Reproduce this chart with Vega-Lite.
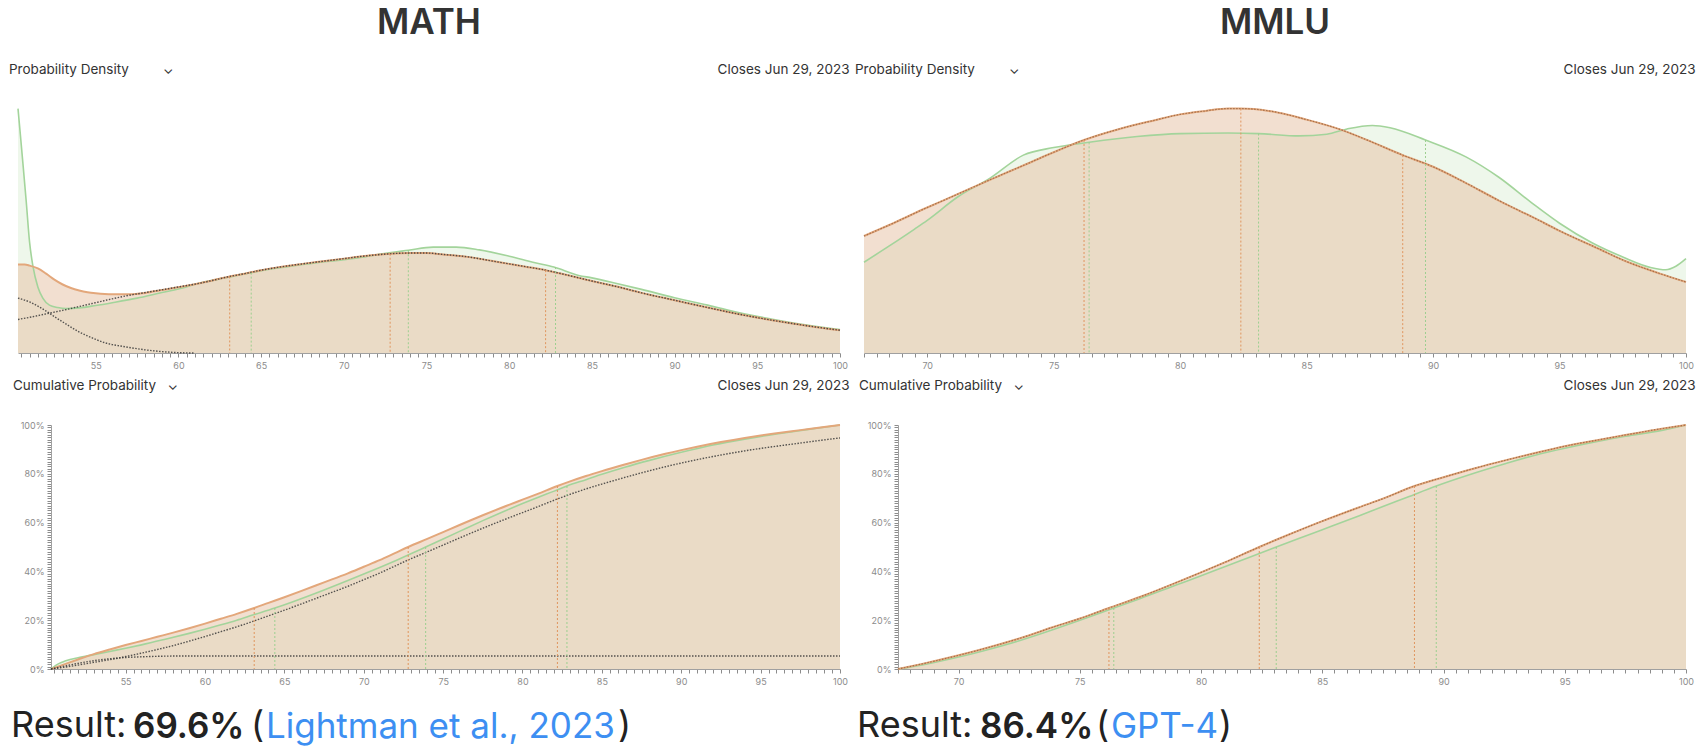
{
  "$schema": "https://vega.github.io/schema/vega-lite/v6.json",
  "background": "white",
  "padding": {"left": 9, "top": 6, "right": 3, "bottom": 0},
  "config": {
    "view": {"stroke": null},
    "font": "Inter",
    "title": {"font": "Inter", "color": "#333333"},
    "axis": {
      "grid": false,
      "labelFont": "Inter",
      "labelFontSize": 9,
      "labelColor": "#8c8c8c",
      "labelFlush": false,
      "labelOverlap": false,
      "labelPadding": 4,
      "tickColor": "#8c8c8c",
      "tickSize": 4,
      "domainColor": "#a0a0a0",
      "titleFont": "Inter",
      "titleFontWeight": "normal",
      "titleFontSize": 13.5,
      "titleColor": "#333333"
    }
  },
  "datasets": {
    "mathDens": [
      {"series": "mine", "x": 50.3, "density": 2.53}, {"series": "mine", "x": 50.7, "density": 2.53}, {"series": "mine", "x": 51.0, "density": 2.50},
      {"series": "mine", "x": 51.5, "density": 2.42}, {"series": "mine", "x": 52.0, "density": 2.27}, {"series": "mine", "x": 52.5, "density": 2.10},
      {"series": "mine", "x": 53.0, "density": 1.96}, {"series": "mine", "x": 53.5, "density": 1.86}, {"series": "mine", "x": 54.0, "density": 1.79},
      {"series": "mine", "x": 54.5, "density": 1.74}, {"series": "mine", "x": 55.0, "density": 1.71}, {"series": "mine", "x": 56.0, "density": 1.68},
      {"series": "mine", "x": 57.0, "density": 1.68}, {"series": "mine", "x": 58.0, "density": 1.72}, {"series": "mine", "x": 59.0, "density": 1.80},
      {"series": "mine", "x": 60.0, "density": 1.88}, {"series": "mine", "x": 61.0, "density": 1.97}, {"series": "mine", "x": 62.0, "density": 2.07},
      {"series": "mine", "x": 63.1, "density": 2.19}, {"series": "mine", "x": 64.0, "density": 2.27}, {"series": "mine", "x": 65.0, "density": 2.37},
      {"series": "mine", "x": 66.0, "density": 2.45}, {"series": "mine", "x": 67.5, "density": 2.55}, {"series": "mine", "x": 69.0, "density": 2.64},
      {"series": "mine", "x": 70.0, "density": 2.70}, {"series": "mine", "x": 71.0, "density": 2.76}, {"series": "mine", "x": 72.0, "density": 2.81},
      {"series": "mine", "x": 72.8, "density": 2.84}, {"series": "mine", "x": 74.0, "density": 2.86}, {"series": "mine", "x": 75.0, "density": 2.86},
      {"series": "mine", "x": 76.0, "density": 2.82}, {"series": "mine", "x": 77.5, "density": 2.75}, {"series": "mine", "x": 79.0, "density": 2.63},
      {"series": "mine", "x": 80.0, "density": 2.55}, {"series": "mine", "x": 81.0, "density": 2.47}, {"series": "mine", "x": 82.2, "density": 2.37},
      {"series": "mine", "x": 83.5, "density": 2.23}, {"series": "mine", "x": 85.0, "density": 2.06}, {"series": "mine", "x": 86.5, "density": 1.90},
      {"series": "mine", "x": 88.0, "density": 1.72}, {"series": "mine", "x": 90.0, "density": 1.51}, {"series": "mine", "x": 92.0, "density": 1.30},
      {"series": "mine", "x": 94.0, "density": 1.10}, {"series": "mine", "x": 96.0, "density": 0.93}, {"series": "mine", "x": 98.0, "density": 0.78},
      {"series": "mine", "x": 100.0, "density": 0.65},

      {"series": "community", "x": 50.3, "density": 6.99}, {"series": "community", "x": 50.45, "density": 6.21}, {"series": "community", "x": 50.6, "density": 5.41},
      {"series": "community", "x": 50.8, "density": 4.32}, {"series": "community", "x": 51.0, "density": 3.17}, {"series": "community", "x": 51.2, "density": 2.49},
      {"series": "community", "x": 51.5, "density": 1.89}, {"series": "community", "x": 51.8, "density": 1.57}, {"series": "community", "x": 52.2, "density": 1.37},
      {"series": "community", "x": 52.7, "density": 1.30}, {"series": "community", "x": 53.2, "density": 1.27}, {"series": "community", "x": 54.0, "density": 1.29},
      {"series": "community", "x": 55.0, "density": 1.36}, {"series": "community", "x": 56.0, "density": 1.44}, {"series": "community", "x": 57.5, "density": 1.57},
      {"series": "community", "x": 59.0, "density": 1.73}, {"series": "community", "x": 60.0, "density": 1.83}, {"series": "community", "x": 61.2, "density": 1.99},
      {"series": "community", "x": 62.5, "density": 2.12}, {"series": "community", "x": 64.4, "density": 2.30}, {"series": "community", "x": 66.0, "density": 2.43},
      {"series": "community", "x": 67.5, "density": 2.53}, {"series": "community", "x": 69.0, "density": 2.62}, {"series": "community", "x": 70.0, "density": 2.67},
      {"series": "community", "x": 71.0, "density": 2.73}, {"series": "community", "x": 72.2, "density": 2.83}, {"series": "community", "x": 73.9, "density": 2.94},
      {"series": "community", "x": 75.4, "density": 3.03}, {"series": "community", "x": 76.8, "density": 3.03}, {"series": "community", "x": 78.2, "density": 2.95},
      {"series": "community", "x": 80.0, "density": 2.77}, {"series": "community", "x": 81.5, "density": 2.59}, {"series": "community", "x": 82.7, "density": 2.46},
      {"series": "community", "x": 84.2, "density": 2.22}, {"series": "community", "x": 85.0, "density": 2.15}, {"series": "community", "x": 86.5, "density": 1.99},
      {"series": "community", "x": 88.0, "density": 1.82}, {"series": "community", "x": 90.0, "density": 1.58}, {"series": "community", "x": 92.0, "density": 1.37},
      {"series": "community", "x": 94.0, "density": 1.14}, {"series": "community", "x": 96.0, "density": 0.96}, {"series": "community", "x": 98.0, "density": 0.80},
      {"series": "community", "x": 100.0, "density": 0.67},

      {"series": "component 1", "x": 50.3, "density": 1.57}, {"series": "component 1", "x": 51.0, "density": 1.46}, {"series": "component 1", "x": 51.5, "density": 1.34},
      {"series": "component 1", "x": 52.0, "density": 1.20}, {"series": "component 1", "x": 52.5, "density": 1.04}, {"series": "component 1", "x": 53.0, "density": 0.89},
      {"series": "component 1", "x": 53.5, "density": 0.74}, {"series": "component 1", "x": 54.0, "density": 0.60}, {"series": "component 1", "x": 54.5, "density": 0.49},
      {"series": "component 1", "x": 55.0, "density": 0.39}, {"series": "component 1", "x": 55.5, "density": 0.30}, {"series": "component 1", "x": 56.0, "density": 0.24},
      {"series": "component 1", "x": 56.5, "density": 0.20}, {"series": "component 1", "x": 57.0, "density": 0.16}, {"series": "component 1", "x": 58.0, "density": 0.09},
      {"series": "component 1", "x": 59.0, "density": 0.04}, {"series": "component 1", "x": 60.0, "density": 0.01}, {"series": "component 1", "x": 61.0, "density": 0.0},

      {"series": "component 2", "x": 50.3, "density": 0.96}, {"series": "component 2", "x": 51.0, "density": 1.02}, {"series": "component 2", "x": 52.0, "density": 1.12},
      {"series": "component 2", "x": 53.0, "density": 1.22}, {"series": "component 2", "x": 54.0, "density": 1.33}, {"series": "component 2", "x": 55.0, "density": 1.44},
      {"series": "component 2", "x": 56.0, "density": 1.55}, {"series": "component 2", "x": 57.0, "density": 1.65}, {"series": "component 2", "x": 58.0, "density": 1.73},
      {"series": "component 2", "x": 59.0, "density": 1.81}, {"series": "component 2", "x": 60.0, "density": 1.89}, {"series": "component 2", "x": 61.0, "density": 1.97},
      {"series": "component 2", "x": 62.0, "density": 2.07}, {"series": "component 2", "x": 63.1, "density": 2.19}, {"series": "component 2", "x": 64.0, "density": 2.27},
      {"series": "component 2", "x": 65.0, "density": 2.37}, {"series": "component 2", "x": 66.0, "density": 2.45}, {"series": "component 2", "x": 67.5, "density": 2.55},
      {"series": "component 2", "x": 69.0, "density": 2.64}, {"series": "component 2", "x": 70.0, "density": 2.70}, {"series": "component 2", "x": 71.0, "density": 2.76},
      {"series": "component 2", "x": 72.0, "density": 2.81}, {"series": "component 2", "x": 72.8, "density": 2.84}, {"series": "component 2", "x": 74.0, "density": 2.86},
      {"series": "component 2", "x": 75.0, "density": 2.86}, {"series": "component 2", "x": 76.0, "density": 2.82}, {"series": "component 2", "x": 77.5, "density": 2.75},
      {"series": "component 2", "x": 79.0, "density": 2.63}, {"series": "component 2", "x": 80.0, "density": 2.55}, {"series": "component 2", "x": 81.0, "density": 2.47},
      {"series": "component 2", "x": 82.2, "density": 2.37}, {"series": "component 2", "x": 83.5, "density": 2.23}, {"series": "component 2", "x": 85.0, "density": 2.06},
      {"series": "component 2", "x": 86.5, "density": 1.90}, {"series": "component 2", "x": 88.0, "density": 1.72}, {"series": "component 2", "x": 90.0, "density": 1.51},
      {"series": "component 2", "x": 92.0, "density": 1.30}, {"series": "component 2", "x": 94.0, "density": 1.10}, {"series": "component 2", "x": 96.0, "density": 0.93},
      {"series": "component 2", "x": 98.0, "density": 0.78}, {"series": "component 2", "x": 100.0, "density": 0.65}
    ],
    "mathCum": [
      {"series": "mine", "x": 50.3, "cum": 0}, {"series": "mine", "x": 51, "cum": 1.6}, {"series": "mine", "x": 52, "cum": 3.9}, {"series": "mine", "x": 53, "cum": 6.1},
      {"series": "mine", "x": 54, "cum": 8.0}, {"series": "mine", "x": 55, "cum": 9.8}, {"series": "mine", "x": 56, "cum": 11.5}, {"series": "mine", "x": 57, "cum": 13.2},
      {"series": "mine", "x": 58, "cum": 14.9}, {"series": "mine", "x": 59, "cum": 16.7}, {"series": "mine", "x": 60, "cum": 18.6}, {"series": "mine", "x": 61, "cum": 20.6},
      {"series": "mine", "x": 62, "cum": 22.6}, {"series": "mine", "x": 63.1, "cum": 25}, {"series": "mine", "x": 64, "cum": 27.1}, {"series": "mine", "x": 65, "cum": 29.4},
      {"series": "mine", "x": 66, "cum": 31.8}, {"series": "mine", "x": 67.5, "cum": 35.5}, {"series": "mine", "x": 69, "cum": 39.2}, {"series": "mine", "x": 70, "cum": 41.9},
      {"series": "mine", "x": 71, "cum": 44.6}, {"series": "mine", "x": 72, "cum": 47.6}, {"series": "mine", "x": 72.8, "cum": 50}, {"series": "mine", "x": 74, "cum": 53.3},
      {"series": "mine", "x": 75, "cum": 56.1}, {"series": "mine", "x": 76, "cum": 58.9}, {"series": "mine", "x": 77.5, "cum": 63.0}, {"series": "mine", "x": 79, "cum": 66.9},
      {"series": "mine", "x": 80, "cum": 69.4}, {"series": "mine", "x": 81, "cum": 71.9}, {"series": "mine", "x": 82.2, "cum": 75}, {"series": "mine", "x": 83, "cum": 76.9},
      {"series": "mine", "x": 84, "cum": 79.1}, {"series": "mine", "x": 85, "cum": 81.1}, {"series": "mine", "x": 86.5, "cum": 83.9}, {"series": "mine", "x": 87.5, "cum": 85.7},
      {"series": "mine", "x": 89, "cum": 88.2}, {"series": "mine", "x": 90, "cum": 89.7}, {"series": "mine", "x": 91, "cum": 91.1}, {"series": "mine", "x": 92.5, "cum": 93.0},
      {"series": "mine", "x": 94, "cum": 94.7}, {"series": "mine", "x": 95, "cum": 95.7}, {"series": "mine", "x": 96, "cum": 96.6}, {"series": "mine", "x": 97.5, "cum": 97.9},
      {"series": "mine", "x": 99, "cum": 99.2}, {"series": "mine", "x": 100, "cum": 100},

      {"series": "community", "x": 50.3, "cum": 0}, {"series": "community", "x": 50.6, "cum": 1.5}, {"series": "community", "x": 51, "cum": 2.8}, {"series": "community", "x": 51.5, "cum": 3.9},
      {"series": "community", "x": 52, "cum": 4.6}, {"series": "community", "x": 53, "cum": 5.9}, {"series": "community", "x": 54, "cum": 7.2}, {"series": "community", "x": 55, "cum": 8.5},
      {"series": "community", "x": 56, "cum": 9.9}, {"series": "community", "x": 57.5, "cum": 12.2}, {"series": "community", "x": 59, "cum": 14.6}, {"series": "community", "x": 60, "cum": 16.3},
      {"series": "community", "x": 61, "cum": 18.1}, {"series": "community", "x": 62, "cum": 20.0}, {"series": "community", "x": 63, "cum": 22.1}, {"series": "community", "x": 64.4, "cum": 25},
      {"series": "community", "x": 65.5, "cum": 27.5}, {"series": "community", "x": 67.5, "cum": 32.4}, {"series": "community", "x": 69, "cum": 36.3}, {"series": "community", "x": 70, "cum": 38.9},
      {"series": "community", "x": 71, "cum": 41.6}, {"series": "community", "x": 72, "cum": 44.4}, {"series": "community", "x": 73, "cum": 47.3}, {"series": "community", "x": 73.9, "cum": 50},
      {"series": "community", "x": 75, "cum": 53.3}, {"series": "community", "x": 76, "cum": 56.3}, {"series": "community", "x": 77.5, "cum": 60.8}, {"series": "community", "x": 79, "cum": 65.1},
      {"series": "community", "x": 80, "cum": 67.8}, {"series": "community", "x": 81, "cum": 70.4}, {"series": "community", "x": 82, "cum": 72.9}, {"series": "community", "x": 82.8, "cum": 75},
      {"series": "community", "x": 84, "cum": 77.6}, {"series": "community", "x": 85, "cum": 79.8}, {"series": "community", "x": 86.5, "cum": 82.8}, {"series": "community", "x": 88, "cum": 85.5},
      {"series": "community", "x": 90, "cum": 88.8}, {"series": "community", "x": 92, "cum": 91.8}, {"series": "community", "x": 94, "cum": 94.2}, {"series": "community", "x": 96, "cum": 96.3},
      {"series": "community", "x": 98, "cum": 98.2}, {"series": "community", "x": 100, "cum": 100},

      {"series": "component 1", "x": 50.3, "cum": 0}, {"series": "component 1", "x": 51, "cum": 1.0}, {"series": "component 1", "x": 52, "cum": 2.3}, {"series": "component 1", "x": 53, "cum": 3.4},
      {"series": "component 1", "x": 54, "cum": 4.2}, {"series": "component 1", "x": 55, "cum": 4.7}, {"series": "component 1", "x": 56, "cum": 5.0}, {"series": "component 1", "x": 57, "cum": 5.2},
      {"series": "component 1", "x": 58, "cum": 5.3}, {"series": "component 1", "x": 100, "cum": 5.3},

      {"series": "component 2", "x": 50.3, "cum": 0}, {"series": "component 2", "x": 51, "cum": 0.6}, {"series": "component 2", "x": 52, "cum": 1.6}, {"series": "component 2", "x": 53, "cum": 2.7},
      {"series": "component 2", "x": 54, "cum": 3.8}, {"series": "component 2", "x": 55, "cum": 5.1}, {"series": "component 2", "x": 56, "cum": 6.5}, {"series": "component 2", "x": 57, "cum": 8.0},
      {"series": "component 2", "x": 58, "cum": 9.6}, {"series": "component 2", "x": 59, "cum": 11.4}, {"series": "component 2", "x": 60, "cum": 13.3}, {"series": "component 2", "x": 61, "cum": 15.3},
      {"series": "component 2", "x": 62, "cum": 17.3}, {"series": "component 2", "x": 63.1, "cum": 19.7}, {"series": "component 2", "x": 64, "cum": 21.8}, {"series": "component 2", "x": 65, "cum": 24.1},
      {"series": "component 2", "x": 66, "cum": 26.5}, {"series": "component 2", "x": 67.5, "cum": 30.2}, {"series": "component 2", "x": 69, "cum": 33.9}, {"series": "component 2", "x": 70, "cum": 36.6},
      {"series": "component 2", "x": 71, "cum": 39.3}, {"series": "component 2", "x": 72, "cum": 42.3}, {"series": "component 2", "x": 72.8, "cum": 44.7}, {"series": "component 2", "x": 74, "cum": 48.0},
      {"series": "component 2", "x": 75, "cum": 50.8}, {"series": "component 2", "x": 76, "cum": 53.6}, {"series": "component 2", "x": 77.5, "cum": 57.7}, {"series": "component 2", "x": 79, "cum": 61.6},
      {"series": "component 2", "x": 80, "cum": 64.1}, {"series": "component 2", "x": 81, "cum": 66.6}, {"series": "component 2", "x": 82.2, "cum": 69.7}, {"series": "component 2", "x": 83, "cum": 71.6},
      {"series": "component 2", "x": 84, "cum": 73.8}, {"series": "component 2", "x": 85, "cum": 75.8}, {"series": "component 2", "x": 86.5, "cum": 78.6}, {"series": "component 2", "x": 87.5, "cum": 80.4},
      {"series": "component 2", "x": 89, "cum": 82.9}, {"series": "component 2", "x": 90, "cum": 84.4}, {"series": "component 2", "x": 91, "cum": 85.8}, {"series": "component 2", "x": 92.5, "cum": 87.7},
      {"series": "component 2", "x": 94, "cum": 89.4}, {"series": "component 2", "x": 95, "cum": 90.4}, {"series": "component 2", "x": 96, "cum": 91.3}, {"series": "component 2", "x": 97.5, "cum": 92.6},
      {"series": "component 2", "x": 99, "cum": 93.9}, {"series": "component 2", "x": 100, "cum": 94.7}
    ],
    "mathQuartiles": [
      {"series": "mine", "x": 63.1, "density": 2.19, "cum": 25}, {"series": "mine", "x": 72.8, "density": 2.84, "cum": 50}, {"series": "mine", "x": 82.2, "density": 2.37, "cum": 75},
      {"series": "community", "x": 64.4, "density": 2.30, "cum": 25}, {"series": "community", "x": 73.9, "density": 2.94, "cum": 50}, {"series": "community", "x": 82.8, "density": 2.46, "cum": 75}
    ],
    "mmluDens": [
      {"series": "mine", "x": 67.5, "density": 2.01}, {"series": "mine", "x": 68.5, "density": 2.20}, {"series": "mine", "x": 70, "density": 2.50}, {"series": "mine", "x": 71, "density": 2.69},
      {"series": "mine", "x": 72.5, "density": 2.98}, {"series": "mine", "x": 74, "density": 3.26}, {"series": "mine", "x": 75, "density": 3.45}, {"series": "mine", "x": 76.2, "density": 3.66},
      {"series": "mine", "x": 77.6, "density": 3.85}, {"series": "mine", "x": 79, "density": 4.00}, {"series": "mine", "x": 80, "density": 4.10}, {"series": "mine", "x": 81, "density": 4.16},
      {"series": "mine", "x": 81.9, "density": 4.20}, {"series": "mine", "x": 82.4, "density": 4.20}, {"series": "mine", "x": 83.5, "density": 4.16}, {"series": "mine", "x": 85, "density": 4.01},
      {"series": "mine", "x": 86.4, "density": 3.83}, {"series": "mine", "x": 87.5, "density": 3.64}, {"series": "mine", "x": 88.8, "density": 3.40}, {"series": "mine", "x": 90, "density": 3.20},
      {"series": "mine", "x": 91.3, "density": 2.92}, {"series": "mine", "x": 92.6, "density": 2.62}, {"series": "mine", "x": 94, "density": 2.32}, {"series": "mine", "x": 95, "density": 2.10},
      {"series": "mine", "x": 96.5, "density": 1.80}, {"series": "mine", "x": 97.6, "density": 1.58}, {"series": "mine", "x": 99, "density": 1.36}, {"series": "mine", "x": 100, "density": 1.22},

      {"series": "community", "x": 67.5, "density": 1.56}, {"series": "community", "x": 68.5, "density": 1.84}, {"series": "community", "x": 69.5, "density": 2.13}, {"series": "community", "x": 70, "density": 2.28},
      {"series": "community", "x": 71.2, "density": 2.68}, {"series": "community", "x": 72.5, "density": 3.01}, {"series": "community", "x": 73.8, "density": 3.40}, {"series": "community", "x": 75, "density": 3.53},
      {"series": "community", "x": 76.4, "density": 3.62}, {"series": "community", "x": 78.3, "density": 3.72}, {"series": "community", "x": 80, "density": 3.77}, {"series": "community", "x": 81.9, "density": 3.78},
      {"series": "community", "x": 83.1, "density": 3.77}, {"series": "community", "x": 84.7, "density": 3.73}, {"series": "community", "x": 85.8, "density": 3.76}, {"series": "community", "x": 86.6, "density": 3.85},
      {"series": "community", "x": 87.6, "density": 3.91}, {"series": "community", "x": 88.3, "density": 3.87}, {"series": "community", "x": 89.7, "density": 3.66}, {"series": "community", "x": 91.3, "density": 3.37},
      {"series": "community", "x": 92.6, "density": 3.02}, {"series": "community", "x": 93.9, "density": 2.58}, {"series": "community", "x": 95, "density": 2.23}, {"series": "community", "x": 96.3, "density": 1.89},
      {"series": "community", "x": 97.5, "density": 1.65}, {"series": "community", "x": 98.6, "density": 1.47}, {"series": "community", "x": 99.2, "density": 1.43}, {"series": "community", "x": 99.6, "density": 1.49},
      {"series": "community", "x": 100, "density": 1.62},

      {"series": "component 1", "x": 67.5, "density": 2.01}, {"series": "component 1", "x": 68.5, "density": 2.20}, {"series": "component 1", "x": 70, "density": 2.50}, {"series": "component 1", "x": 71, "density": 2.69},
      {"series": "component 1", "x": 72.5, "density": 2.98}, {"series": "component 1", "x": 74, "density": 3.26}, {"series": "component 1", "x": 75, "density": 3.45}, {"series": "component 1", "x": 76.2, "density": 3.66},
      {"series": "component 1", "x": 77.6, "density": 3.85}, {"series": "component 1", "x": 79, "density": 4.00}, {"series": "component 1", "x": 80, "density": 4.10}, {"series": "component 1", "x": 81, "density": 4.16},
      {"series": "component 1", "x": 81.9, "density": 4.20}, {"series": "component 1", "x": 82.4, "density": 4.20}, {"series": "component 1", "x": 83.5, "density": 4.16}, {"series": "component 1", "x": 85, "density": 4.01},
      {"series": "component 1", "x": 86.4, "density": 3.83}, {"series": "component 1", "x": 87.5, "density": 3.64}, {"series": "component 1", "x": 88.8, "density": 3.40}, {"series": "component 1", "x": 90, "density": 3.20},
      {"series": "component 1", "x": 91.3, "density": 2.92}, {"series": "component 1", "x": 92.6, "density": 2.62}, {"series": "component 1", "x": 94, "density": 2.32}, {"series": "component 1", "x": 95, "density": 2.10},
      {"series": "component 1", "x": 96.5, "density": 1.80}, {"series": "component 1", "x": 97.6, "density": 1.58}, {"series": "component 1", "x": 99, "density": 1.36}, {"series": "component 1", "x": 100, "density": 1.22}
    ],
    "mmluCum": [
      {"series": "mine", "x": 67.5, "cum": 0}, {"series": "mine", "x": 68.5, "cum": 2.1}, {"series": "mine", "x": 70, "cum": 5.6}, {"series": "mine", "x": 71, "cum": 8.2},
      {"series": "mine", "x": 72.5, "cum": 12.5}, {"series": "mine", "x": 74, "cum": 17.5}, {"series": "mine", "x": 75, "cum": 20.7}, {"series": "mine", "x": 76.2, "cum": 25},
      {"series": "mine", "x": 77.5, "cum": 29.6}, {"series": "mine", "x": 79, "cum": 35.5}, {"series": "mine", "x": 80, "cum": 39.6}, {"series": "mine", "x": 81, "cum": 43.8},
      {"series": "mine", "x": 82.4, "cum": 50}, {"series": "mine", "x": 83.5, "cum": 54.6}, {"series": "mine", "x": 85, "cum": 60.6}, {"series": "mine", "x": 86.5, "cum": 66.2},
      {"series": "mine", "x": 87.5, "cum": 69.8}, {"series": "mine", "x": 88.8, "cum": 75}, {"series": "mine", "x": 90, "cum": 78.6}, {"series": "mine", "x": 91.3, "cum": 82.3},
      {"series": "mine", "x": 92.5, "cum": 85.4}, {"series": "mine", "x": 94, "cum": 89.0}, {"series": "mine", "x": 95, "cum": 91.3}, {"series": "mine", "x": 96.5, "cum": 94.1},
      {"series": "mine", "x": 97.5, "cum": 95.9}, {"series": "mine", "x": 99, "cum": 98.5}, {"series": "mine", "x": 100, "cum": 100},

      {"series": "community", "x": 67.5, "cum": 0}, {"series": "community", "x": 68.5, "cum": 1.7}, {"series": "community", "x": 70, "cum": 4.9}, {"series": "community", "x": 71, "cum": 7.4},
      {"series": "community", "x": 72.5, "cum": 11.6}, {"series": "community", "x": 74, "cum": 16.5}, {"series": "community", "x": 75, "cum": 20.0}, {"series": "community", "x": 76.4, "cum": 25},
      {"series": "community", "x": 77.5, "cum": 28.9}, {"series": "community", "x": 79, "cum": 34.5}, {"series": "community", "x": 80, "cum": 38.2}, {"series": "community", "x": 81, "cum": 42.0},
      {"series": "community", "x": 82, "cum": 45.8}, {"series": "community", "x": 83.1, "cum": 50}, {"series": "community", "x": 84, "cum": 53.4}, {"series": "community", "x": 85, "cum": 57.1},
      {"series": "community", "x": 86.5, "cum": 62.7}, {"series": "community", "x": 87.5, "cum": 66.6}, {"series": "community", "x": 88.5, "cum": 70.4}, {"series": "community", "x": 89.7, "cum": 75},
      {"series": "community", "x": 91, "cum": 79.4}, {"series": "community", "x": 92.5, "cum": 84.0}, {"series": "community", "x": 94, "cum": 88.2}, {"series": "community", "x": 95, "cum": 90.5},
      {"series": "community", "x": 96.5, "cum": 93.6}, {"series": "community", "x": 97.5, "cum": 95.4}, {"series": "community", "x": 99, "cum": 97.8}, {"series": "community", "x": 100, "cum": 100},

      {"series": "component 1", "x": 67.5, "cum": 0}, {"series": "component 1", "x": 68.5, "cum": 2.1}, {"series": "component 1", "x": 70, "cum": 5.6}, {"series": "component 1", "x": 71, "cum": 8.2},
      {"series": "component 1", "x": 72.5, "cum": 12.5}, {"series": "component 1", "x": 74, "cum": 17.5}, {"series": "component 1", "x": 75, "cum": 20.7}, {"series": "component 1", "x": 76.2, "cum": 25},
      {"series": "component 1", "x": 77.5, "cum": 29.6}, {"series": "component 1", "x": 79, "cum": 35.5}, {"series": "component 1", "x": 80, "cum": 39.6}, {"series": "component 1", "x": 81, "cum": 43.8},
      {"series": "component 1", "x": 82.4, "cum": 50}, {"series": "component 1", "x": 83.5, "cum": 54.6}, {"series": "component 1", "x": 85, "cum": 60.6}, {"series": "component 1", "x": 86.5, "cum": 66.2},
      {"series": "component 1", "x": 87.5, "cum": 69.8}, {"series": "component 1", "x": 88.8, "cum": 75}, {"series": "component 1", "x": 90, "cum": 78.6}, {"series": "component 1", "x": 91.3, "cum": 82.3},
      {"series": "component 1", "x": 92.5, "cum": 85.4}, {"series": "component 1", "x": 94, "cum": 89.0}, {"series": "component 1", "x": 95, "cum": 91.3}, {"series": "component 1", "x": 96.5, "cum": 94.1},
      {"series": "component 1", "x": 97.5, "cum": 95.9}, {"series": "component 1", "x": 99, "cum": 98.5}, {"series": "component 1", "x": 100, "cum": 100}
    ],
    "mmluQuartiles": [
      {"series": "mine", "x": 76.2, "density": 3.66, "cum": 25}, {"series": "mine", "x": 82.4, "density": 4.20, "cum": 50}, {"series": "mine", "x": 88.8, "density": 3.40, "cum": 75},
      {"series": "community", "x": 76.4, "density": 3.62, "cum": 25}, {"series": "community", "x": 83.1, "density": 3.77, "cum": 50}, {"series": "community", "x": 89.7, "density": 3.66, "cum": 75}
    ]
  },
  "hconcat": [
    {
      "title": {"text": "MATH", "fontSize": 35, "fontWeight": 600, "anchor": "middle", "color": "#333333", "offset": 21},
      "concat": [
        {
          "width": 822, "height": 252,
          "title": {"text": "Probability Density\u00a0\u00a0\u00a0\u00a0\u00a0\u00a0\u00a0\u00a0\u00a0⌄", "anchor": "start", "fontSize": 13.5, "fontWeight": "normal", "baseline": "alphabetic", "offset": 0, "dx": -5, "dy": 25},
          "resolve": {"axis": {"x": "independent"}},
          "layer": [
            {
              "data": {"name": "mathDens"},
              "transform": [{"filter": "datum.series === 'community'"}],
              "mark": {"type": "area", "interpolate": "monotone", "color": "#cfe8c6", "opacity": 0.35},
              "encoding": {
                "x": {"field": "x", "type": "quantitative", "scale": {"domain": [50.3, 100], "nice": false, "zero": false},
                      "axis": {"orient": "bottom", "title": null, "tickCount": 100, "labelExpr": "datum.value % 5 === 0 ? format(datum.value, 'd') : ''"}},
                "y": {"field": "density", "type": "quantitative", "scale": {"domain": [0, 7.21], "nice": false}, "axis": null}
              }
            },
            {
              "data": {"name": "mathDens"},
              "transform": [{"filter": "datum.series === 'mine'"}],
              "mark": {"type": "area", "interpolate": "monotone", "color": "#e5bfa1", "opacity": 0.5},
              "encoding": {
                "x": {"field": "x", "type": "quantitative",
                      "axis": {"orient": "top", "title": "Closes Jun 29, 2023", "labels": false, "ticks": false, "domain": false, "titleAnchor": "end", "titleAlign": "right", "titleX": 831, "titleBaseline": "alphabetic", "titlePadding": 28}},
                "y": {"field": "density", "type": "quantitative"}
              }
            },
            {
              "data": {"name": "mathDens"},
              "transform": [{"filter": "datum.series === 'community'"}],
              "mark": {"type": "line", "interpolate": "monotone", "color": "#a3d49b", "strokeWidth": 1.6},
              "encoding": {"x": {"field": "x", "type": "quantitative", "axis": null}, "y": {"field": "density", "type": "quantitative"}}
            },
            {
              "data": {"name": "mathDens"},
              "transform": [{"filter": "datum.series === 'mine'"}],
              "mark": {"type": "line", "interpolate": "monotone", "color": "#e3a77b", "strokeWidth": 2},
              "encoding": {"x": {"field": "x", "type": "quantitative", "axis": null}, "y": {"field": "density", "type": "quantitative"}}
            },
            {
              "data": {"name": "mathDens"},
              "transform": [{"filter": "indexof(datum.series, 'component') === 0"}],
              "mark": {"type": "line", "interpolate": "monotone", "color": "#3a3a3a", "strokeWidth": 1.4, "strokeDash": [1.5, 1.5], "opacity": 0.85},
              "encoding": {"x": {"field": "x", "type": "quantitative", "axis": null}, "y": {"field": "density", "type": "quantitative"}, "detail": {"field": "series"}}
            },
            {
              "data": {"name": "mathQuartiles"},
              "mark": {"type": "rule", "strokeWidth": 1, "strokeDash": [2, 2]},
              "encoding": {
                "x": {"field": "x", "type": "quantitative", "axis": null},
                "y": {"field": "density", "type": "quantitative"},
                "y2": {"datum": 0},
                "color": {"field": "series", "type": "nominal", "scale": {"domain": ["mine", "community"], "range": ["#e0955e", "#9ccf8f"]}, "legend": null}
              }
            }
          ]
        },
        {
          "width": 822, "height": 244,
          "title": {"text": "Cumulative Probability\u00a0\u00a0\u00a0⌄", "anchor": "start", "fontSize": 13.5, "fontWeight": "normal", "baseline": "alphabetic", "offset": 0, "dx": -5, "dy": 25},
          "resolve": {"axis": {"x": "independent"}},
          "layer": [
            {
              "data": {"name": "mathCum"},
              "transform": [{"filter": "datum.series === 'community'"}],
              "mark": {"type": "area", "interpolate": "monotone", "color": "#cfe8c6", "opacity": 0.35},
              "encoding": {
                "x": {"field": "x", "type": "quantitative", "scale": {"domain": [50.3, 100], "nice": false, "zero": false, "range": [33, 822]},
                      "axis": {"orient": "bottom", "title": null, "tickCount": 100, "labelExpr": "datum.value % 5 === 0 ? format(datum.value, 'd') : ''", "minExtent": 31}},
                "y": {"field": "cum", "type": "quantitative", "scale": {"domain": [0, 100], "nice": false},
                      "axis": {"title": null, "offset": -33, "tickCount": 100, "labelPadding": 3, "labelExpr": "datum.value % 20 === 0 ? datum.value + '%' : ''"}}
              }
            },
            {
              "data": {"name": "mathCum"},
              "transform": [{"filter": "datum.series === 'mine'"}],
              "mark": {"type": "area", "interpolate": "monotone", "color": "#e5bfa1", "opacity": 0.5},
              "encoding": {
                "x": {"field": "x", "type": "quantitative",
                      "axis": {"orient": "top", "title": "Closes Jun 29, 2023", "labels": false, "ticks": false, "domain": false, "titleAnchor": "end", "titleAlign": "right", "titleX": 831, "titleBaseline": "alphabetic", "titlePadding": 36}},
                "y": {"field": "cum", "type": "quantitative"}
              }
            },
            {
              "data": {"name": "mathCum"},
              "transform": [{"filter": "datum.series === 'community'"}],
              "mark": {"type": "line", "interpolate": "monotone", "color": "#a3d49b", "strokeWidth": 1.6},
              "encoding": {"x": {"field": "x", "type": "quantitative", "axis": null}, "y": {"field": "cum", "type": "quantitative"}}
            },
            {
              "data": {"name": "mathCum"},
              "transform": [{"filter": "datum.series === 'mine'"}],
              "mark": {"type": "line", "interpolate": "monotone", "color": "#e3a77b", "strokeWidth": 2},
              "encoding": {"x": {"field": "x", "type": "quantitative", "axis": null}, "y": {"field": "cum", "type": "quantitative"}}
            },
            {
              "data": {"name": "mathCum"},
              "transform": [{"filter": "indexof(datum.series, 'component') === 0"}],
              "mark": {"type": "line", "interpolate": "monotone", "color": "#3a3a3a", "strokeWidth": 1.4, "strokeDash": [1.5, 1.5], "opacity": 0.85},
              "encoding": {"x": {"field": "x", "type": "quantitative", "axis": null}, "y": {"field": "cum", "type": "quantitative"}, "detail": {"field": "series"}}
            },
            {
              "data": {"name": "mathQuartiles"},
              "mark": {"type": "rule", "strokeWidth": 1, "strokeDash": [2, 2]},
              "encoding": {
                "x": {"field": "x", "type": "quantitative", "axis": null},
                "y": {"field": "cum", "type": "quantitative"},
                "y2": {"datum": 0},
                "color": {"field": "series", "type": "nominal", "scale": {"domain": ["mine", "community"], "range": ["#e0955e", "#9ccf8f"]}, "legend": null}
              }
            }
          ]
        },
        {
          "spacing": 0,
          "hconcat": [
            {"width": 115, "height": 1, "data": {"values": [{"t": ""}]},
             "mark": {"type": "rule", "color": "#3d8ff2", "strokeWidth": 2.2, "opacity": 0},
             "encoding": {"x": {"datum": 0, "type": "quantitative", "scale": {"domain": [0, 1]}, "axis": null}, "x2": {"datum": 1}, "y": {"datum": 0, "type": "quantitative", "scale": {"domain": [0, 1]}, "axis": null}},
             "title": {"text": "Result:", "anchor": "start", "fontSize": 36, "fontWeight": 400, "color": "#222222", "baseline": "alphabetic", "offset": 3, "dx": -7}},
            {"width": 111, "height": 1, "data": {"values": [{"t": ""}]},
             "mark": {"type": "rule", "color": "#3d8ff2", "strokeWidth": 2.2, "opacity": 0},
             "encoding": {"x": {"datum": 0, "type": "quantitative", "scale": {"domain": [0, 1]}, "axis": null}, "x2": {"datum": 1}, "y": {"datum": 0, "type": "quantitative", "scale": {"domain": [0, 1]}, "axis": null}},
             "title": {"text": "69.6%", "anchor": "start", "fontSize": 35, "fontWeight": 600, "color": "#222222", "baseline": "alphabetic", "offset": 3, "dx": -7}},
            {"width": 5, "height": 1, "data": {"values": [{"t": ""}]},
             "mark": {"type": "rule", "color": "#3d8ff2", "strokeWidth": 2.2, "opacity": 0},
             "encoding": {"x": {"datum": 0, "type": "quantitative", "scale": {"domain": [0, 1]}, "axis": null}, "x2": {"datum": 1}, "y": {"datum": 0, "type": "quantitative", "scale": {"domain": [0, 1]}, "axis": null}},
             "title": {"text": "(", "anchor": "start", "fontSize": 36, "fontWeight": 400, "color": "#222222", "baseline": "alphabetic", "offset": 3, "dx": -7}},
            {"width": 349, "height": 1, "view": {"fill": "#3d8ff2"}, "data": {"values": [{"t": "link"}]},
             "mark": {"type": "rule", "color": "#3d8ff2", "strokeWidth": 2.2},
             "encoding": {"x": {"datum": 0, "type": "quantitative", "scale": {"domain": [0, 1]}, "axis": null}, "x2": {"datum": 1}, "y": {"datum": 0, "type": "quantitative", "scale": {"domain": [0, 1]}, "axis": null}},
             "title": {"text": "Lightman et al., 2023", "anchor": "start", "fontSize": 35, "fontWeight": 400, "color": "#3d8ff2", "baseline": "alphabetic", "offset": 3}},
            {"width": 1, "height": 1, "data": {"values": [{"t": ""}]},
             "mark": {"type": "rule", "color": "#3d8ff2", "strokeWidth": 2.2, "opacity": 0},
             "encoding": {"x": {"datum": 0, "type": "quantitative", "scale": {"domain": [0, 1]}, "axis": null}, "x2": {"datum": 1}, "y": {"datum": 0, "type": "quantitative", "scale": {"domain": [0, 1]}, "axis": null}},
             "title": {"text": ")", "anchor": "start", "fontSize": 36, "fontWeight": 400, "color": "#222222", "baseline": "alphabetic", "offset": 3, "dx": -7}}
          ]
        }
      ],
      "columns": 1,
      "align": "none",
      "spacing": 8
    },
    {
      "title": {"text": "MMLU", "fontSize": 35, "fontWeight": 600, "anchor": "middle", "color": "#333333", "offset": 21},
      "concat": [
        {
          "width": 822, "height": 252,
          "title": {"text": "Probability Density\u00a0\u00a0\u00a0\u00a0\u00a0\u00a0\u00a0\u00a0\u00a0⌄", "anchor": "start", "fontSize": 13.5, "fontWeight": "normal", "baseline": "alphabetic", "offset": 0, "dx": -5, "dy": 25},
          "resolve": {"axis": {"x": "independent"}},
          "layer": [
            {
              "data": {"name": "mmluDens"},
              "transform": [{"filter": "datum.series === 'community'"}],
              "mark": {"type": "area", "interpolate": "monotone", "color": "#cfe8c6", "opacity": 0.35},
              "encoding": {
                "x": {"field": "x", "type": "quantitative", "scale": {"domain": [67.5, 100], "nice": false, "zero": false},
                      "axis": {"orient": "bottom", "title": null, "tickCount": 65, "labelExpr": "datum.value % 5 === 0 ? format(datum.value, 'd') : ''"}},
                "y": {"field": "density", "type": "quantitative", "scale": {"domain": [0, 4.33], "nice": false}, "axis": null}
              }
            },
            {
              "data": {"name": "mmluDens"},
              "transform": [{"filter": "datum.series === 'mine'"}],
              "mark": {"type": "area", "interpolate": "monotone", "color": "#e5bfa1", "opacity": 0.5},
              "encoding": {
                "x": {"field": "x", "type": "quantitative",
                      "axis": {"orient": "top", "title": "Closes Jun 29, 2023", "labels": false, "ticks": false, "domain": false, "titleAnchor": "end", "titleAlign": "right", "titleX": 831, "titleBaseline": "alphabetic", "titlePadding": 28}},
                "y": {"field": "density", "type": "quantitative"}
              }
            },
            {
              "data": {"name": "mmluDens"},
              "transform": [{"filter": "datum.series === 'community'"}],
              "mark": {"type": "line", "interpolate": "monotone", "color": "#a3d49b", "strokeWidth": 1.6},
              "encoding": {"x": {"field": "x", "type": "quantitative", "axis": null}, "y": {"field": "density", "type": "quantitative"}}
            },
            {
              "data": {"name": "mmluDens"},
              "transform": [{"filter": "datum.series === 'mine'"}],
              "mark": {"type": "line", "interpolate": "monotone", "color": "#e3a77b", "strokeWidth": 2},
              "encoding": {"x": {"field": "x", "type": "quantitative", "axis": null}, "y": {"field": "density", "type": "quantitative"}}
            },
            {
              "data": {"name": "mmluDens"},
              "transform": [{"filter": "indexof(datum.series, 'component') === 0"}],
              "mark": {"type": "line", "interpolate": "monotone", "color": "#7a4a2a", "strokeWidth": 1.2, "strokeDash": [1.5, 1.5], "opacity": 0.6},
              "encoding": {"x": {"field": "x", "type": "quantitative", "axis": null}, "y": {"field": "density", "type": "quantitative"}}
            },
            {
              "data": {"name": "mmluQuartiles"},
              "mark": {"type": "rule", "strokeWidth": 1, "strokeDash": [2, 2]},
              "encoding": {
                "x": {"field": "x", "type": "quantitative", "axis": null},
                "y": {"field": "density", "type": "quantitative"},
                "y2": {"datum": 0},
                "color": {"field": "series", "type": "nominal", "scale": {"domain": ["mine", "community"], "range": ["#e0955e", "#9ccf8f"]}, "legend": null}
              }
            }
          ]
        },
        {
          "width": 822, "height": 244,
          "title": {"text": "Cumulative Probability\u00a0\u00a0\u00a0⌄", "anchor": "start", "fontSize": 13.5, "fontWeight": "normal", "baseline": "alphabetic", "offset": 0, "dx": -5, "dy": 25},
          "resolve": {"axis": {"x": "independent"}},
          "layer": [
            {
              "data": {"name": "mmluCum"},
              "transform": [{"filter": "datum.series === 'community'"}],
              "mark": {"type": "area", "interpolate": "monotone", "color": "#cfe8c6", "opacity": 0.35},
              "encoding": {
                "x": {"field": "x", "type": "quantitative", "scale": {"domain": [67.5, 100], "nice": false, "zero": false, "range": [34, 822]},
                      "axis": {"orient": "bottom", "title": null, "tickCount": 65, "labelExpr": "datum.value % 5 === 0 ? format(datum.value, 'd') : ''", "minExtent": 31}},
                "y": {"field": "cum", "type": "quantitative", "scale": {"domain": [0, 100], "nice": false},
                      "axis": {"title": null, "offset": -34, "tickCount": 100, "labelPadding": 3, "labelExpr": "datum.value % 20 === 0 ? datum.value + '%' : ''"}}
              }
            },
            {
              "data": {"name": "mmluCum"},
              "transform": [{"filter": "datum.series === 'mine'"}],
              "mark": {"type": "area", "interpolate": "monotone", "color": "#e5bfa1", "opacity": 0.5},
              "encoding": {
                "x": {"field": "x", "type": "quantitative",
                      "axis": {"orient": "top", "title": "Closes Jun 29, 2023", "labels": false, "ticks": false, "domain": false, "titleAnchor": "end", "titleAlign": "right", "titleX": 831, "titleBaseline": "alphabetic", "titlePadding": 36}},
                "y": {"field": "cum", "type": "quantitative"}
              }
            },
            {
              "data": {"name": "mmluCum"},
              "transform": [{"filter": "datum.series === 'community'"}],
              "mark": {"type": "line", "interpolate": "monotone", "color": "#a3d49b", "strokeWidth": 1.6},
              "encoding": {"x": {"field": "x", "type": "quantitative", "axis": null}, "y": {"field": "cum", "type": "quantitative"}}
            },
            {
              "data": {"name": "mmluCum"},
              "transform": [{"filter": "datum.series === 'mine'"}],
              "mark": {"type": "line", "interpolate": "monotone", "color": "#e3a77b", "strokeWidth": 2},
              "encoding": {"x": {"field": "x", "type": "quantitative", "axis": null}, "y": {"field": "cum", "type": "quantitative"}}
            },
            {
              "data": {"name": "mmluCum"},
              "transform": [{"filter": "indexof(datum.series, 'component') === 0"}],
              "mark": {"type": "line", "interpolate": "monotone", "color": "#7a4a2a", "strokeWidth": 1.2, "strokeDash": [1.5, 1.5], "opacity": 0.6},
              "encoding": {"x": {"field": "x", "type": "quantitative", "axis": null}, "y": {"field": "cum", "type": "quantitative"}}
            },
            {
              "data": {"name": "mmluQuartiles"},
              "mark": {"type": "rule", "strokeWidth": 1, "strokeDash": [2, 2]},
              "encoding": {
                "x": {"field": "x", "type": "quantitative", "axis": null},
                "y": {"field": "cum", "type": "quantitative"},
                "y2": {"datum": 0},
                "color": {"field": "series", "type": "nominal", "scale": {"domain": ["mine", "community"], "range": ["#e0955e", "#9ccf8f"]}, "legend": null}
              }
            }
          ]
        },
        {
          "spacing": 0,
          "hconcat": [
            {"width": 116, "height": 1, "data": {"values": [{"t": ""}]},
             "mark": {"type": "rule", "color": "#3d8ff2", "strokeWidth": 2.2, "opacity": 0},
             "encoding": {"x": {"datum": 0, "type": "quantitative", "scale": {"domain": [0, 1]}, "axis": null}, "x2": {"datum": 1}, "y": {"datum": 0, "type": "quantitative", "scale": {"domain": [0, 1]}, "axis": null}},
             "title": {"text": "Result:", "anchor": "start", "fontSize": 36, "fontWeight": 400, "color": "#222222", "baseline": "alphabetic", "offset": 3, "dx": -7}},
            {"width": 109, "height": 1, "data": {"values": [{"t": ""}]},
             "mark": {"type": "rule", "color": "#3d8ff2", "strokeWidth": 2.2, "opacity": 0},
             "encoding": {"x": {"datum": 0, "type": "quantitative", "scale": {"domain": [0, 1]}, "axis": null}, "x2": {"datum": 1}, "y": {"datum": 0, "type": "quantitative", "scale": {"domain": [0, 1]}, "axis": null}},
             "title": {"text": "86.4%", "anchor": "start", "fontSize": 35, "fontWeight": 600, "color": "#222222", "baseline": "alphabetic", "offset": 3, "dx": -7}},
            {"width": 6, "height": 1, "data": {"values": [{"t": ""}]},
             "mark": {"type": "rule", "color": "#3d8ff2", "strokeWidth": 2.2, "opacity": 0},
             "encoding": {"x": {"datum": 0, "type": "quantitative", "scale": {"domain": [0, 1]}, "axis": null}, "x2": {"datum": 1}, "y": {"datum": 0, "type": "quantitative", "scale": {"domain": [0, 1]}, "axis": null}},
             "title": {"text": "(", "anchor": "start", "fontSize": 36, "fontWeight": 400, "color": "#222222", "baseline": "alphabetic", "offset": 3, "dx": -7}},
            {"width": 103, "height": 1, "view": {"fill": "#3d8ff2"}, "data": {"values": [{"t": "link"}]},
             "mark": {"type": "rule", "color": "#3d8ff2", "strokeWidth": 2.2},
             "encoding": {"x": {"datum": 0, "type": "quantitative", "scale": {"domain": [0, 1]}, "axis": null}, "x2": {"datum": 1}, "y": {"datum": 0, "type": "quantitative", "scale": {"domain": [0, 1]}, "axis": null}},
             "title": {"text": "GPT-4", "anchor": "start", "fontSize": 35, "fontWeight": 400, "color": "#3d8ff2", "baseline": "alphabetic", "offset": 3}},
            {"width": 1, "height": 1, "data": {"values": [{"t": ""}]},
             "mark": {"type": "rule", "color": "#3d8ff2", "strokeWidth": 2.2, "opacity": 0},
             "encoding": {"x": {"datum": 0, "type": "quantitative", "scale": {"domain": [0, 1]}, "axis": null}, "x2": {"datum": 1}, "y": {"datum": 0, "type": "quantitative", "scale": {"domain": [0, 1]}, "axis": null}},
             "title": {"text": ")", "anchor": "start", "fontSize": 36, "fontWeight": 400, "color": "#222222", "baseline": "alphabetic", "offset": 3, "dx": -7}}
          ]
        }
      ],
      "columns": 1,
      "align": "none",
      "spacing": 8
    }
  ],
  "spacing": 6
}
